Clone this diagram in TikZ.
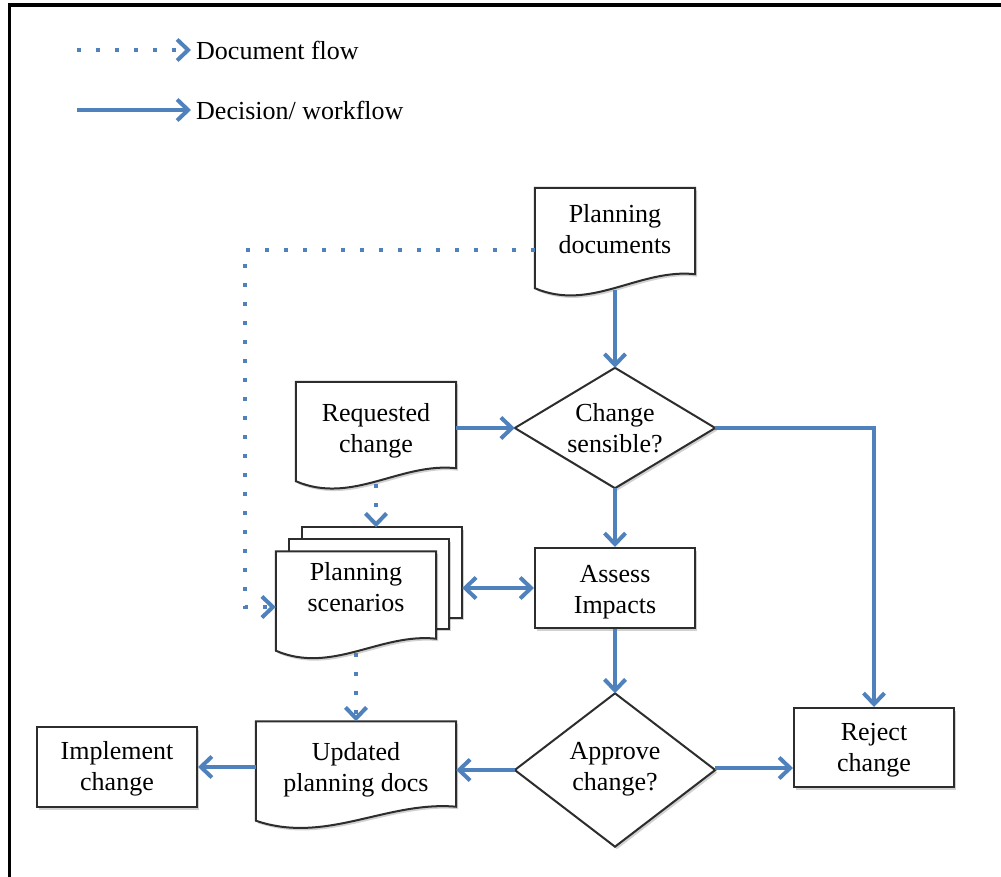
\documentclass[tikz,border=0pt]{standalone}
\usepackage{fontspec}
\setmainfont{Liberation Serif}
\usetikzlibrary{arrows.meta,calc,shadows}
\definecolor{flowblue}{RGB}{79,129,189}
\definecolor{edgegray}{RGB}{45,45,45}
\pgfdeclarelayer{background}
\pgfsetlayers{background,main}

% document shape: box with a wavy bottom edge; #2 is how far the left end drops
\newcommand{\docoutline}[2]{%
  \path[outline] (#1.north west) -- (#1.north east) -- (#1.south east)
    .. controls ($(#1.south west)!0.65!(#1.south east)+(0,-6)$)
       and ($(#1.south west)!0.35!(#1.south east)+(0,#2+24)$)
    .. ($(#1.south west)+(0,#2)$) -- cycle;}

\begin{document}
\begin{tikzpicture}[x=1pt,y=-1pt,
  every node/.style={font=\fontsize{26}{31.5}\selectfont, align=center, inner sep=0pt},
  % puts the last line of a two-line label #1 pt below the shape's centre
  tshift/.code={\pgfmathsetmacro\tsh{23.2+2*#1}\tikzset{text height=\tsh pt, text depth=6pt}},
  softshadow/.style={drop shadow={shadow xshift=2pt, shadow yshift=-2.5pt, opacity=0.18, fill=black}},
  box/.style={draw=edgegray, line width=2pt, fill=white, minimum width=160pt, minimum height=80pt, softshadow},
  docbox/.style={minimum width=160pt, minimum height=86pt},
  decision/.style={minimum width=200pt, minimum height=120pt},
  outline/.style={draw=edgegray, line width=2pt, fill=white, softshadow},
  flow/.style={draw=flowblue, line width=4pt, -{Straight Barb[length=11pt,width=21pt]}},
  twoway/.style={flow, {Straight Barb[length=11pt,width=21pt]}-{Straight Barb[length=11pt,width=21pt]}},
  docflow/.style={flow, dash pattern=on 4pt off 15pt},
]
\useasboundingbox (0,0) rectangle (1001,877);

% frame
\draw[line width=3.5pt] (1001,5) -- (9.5,5) -- (9.5,877);

% legend
\coordinate (l1s) at (77,50);
\coordinate (l2s) at (77,110);
\node[anchor=west] (l1) at (196,50) {Document flow};
\node[anchor=west] (l2) at (196,110) {Decision/ workflow};
\draw[docflow] (l1s) -- ($(l1.west)+(-5,0)$);
\draw[flow] (l2s) -- ($(l2.west)+(-5,0)$);

% nodes
\node[docbox, tshift=14] (pd) at (615,231) {Planning\\documents};
\node[docbox, tshift=19] (rc) at (376,425) {Requested\\change};
\node[docbox, tshift=8, minimum height=87pt] (sc) at (356,595) {Planning\\scenarios};
\node[docbox, tshift=19, minimum width=200pt, minimum height=85pt] (up) at (356,764) {Updated\\planning docs};
\node[decision, tshift=16] (cs) at (615,428) {Change\\sensible?};
\node[decision, tshift=12, minimum height=153pt] (ap) at (615,770) {Approve\\change?};
\node[box, tshift=17] (as) at (615,588) {Assess\\Impacts};
\node[box, tshift=15.5, minimum height=79pt] (rj) at (874,747.5) {Reject\\change};
\node[box, tshift=15] (im) at (117,767) {Implement\\change};

\begin{pgfonlayer}{background}
  \docoutline{pd}{14}
  \docoutline{rc}{13}
  \path[outline] ($(sc.north west)+(26,-24)$) rectangle ($(sc.south east)+(26,-21)$);
  \path[outline] ($(sc.north west)+(13,-12)$) rectangle ($(sc.south east)+(13,-10)$);
  \docoutline{sc}{12}
  \docoutline{up}{14}
  \path[outline] (cs.west) -- (cs.north) -- (cs.east) -- (cs.south) -- cycle;
  \path[outline] (ap.west) -- (ap.north) -- (ap.east) -- (ap.south) -- cycle;
\end{pgfonlayer}

\coordinate (scback) at ($(sc.east)+(26,-7)$);
\coordinate (dotturn) at (245,250);
\coordinate (apr) at ($(ap.east)+(0,-2)$);

% decision / workflow
\draw[flow] ($(pd.south)+(0,16)$) -- (cs.north);
\draw[flow] (rc.east |- cs.west) -- (cs.west);
\draw[flow] (cs.east) -| (rj.north);
\draw[flow] (cs.south) -- (as.north);
\draw[twoway] (scback) -- (scback -| as.west);
\draw[flow] (as.south) -- (ap.north);
\draw[flow] (ap.west) -- (ap.west -| up.east);
\draw[flow] (apr) -- (apr -| rj.west);
\draw[flow] (im.east -| up.west) -- (im.east);

% document flow
\draw[docflow] (pd.west |- dotturn) -- (dotturn) |- ($(sc.west)+(0,12)$);
\draw[docflow] ($(rc.south)+(0,16)$) -- ($(sc.north)+(20,-24)$);
\draw[docflow] ($(sc.south)+(0,14)$) -- (up.north);
\end{tikzpicture}
\end{document}
